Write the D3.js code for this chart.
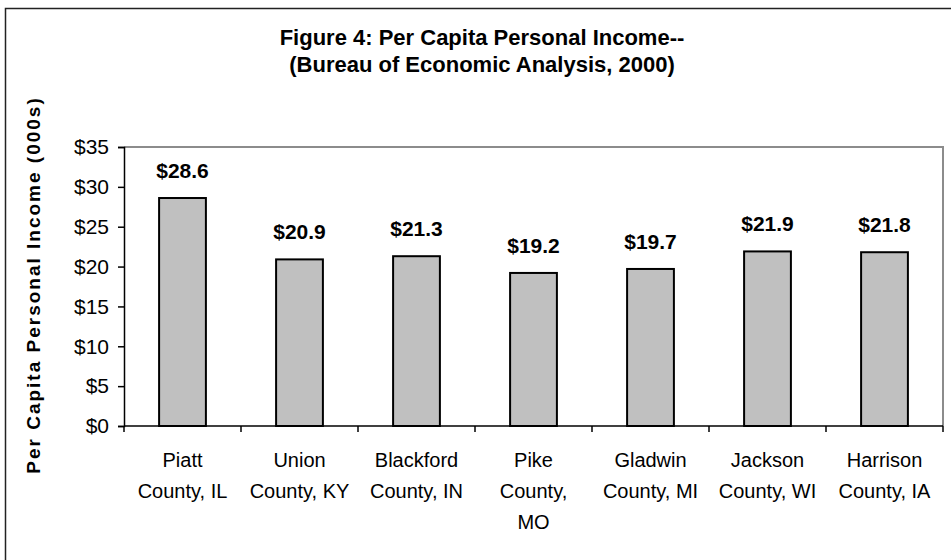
<!DOCTYPE html>
<html>
<head>
<meta charset="utf-8">
<script src="https://cdn.jsdelivr.net/npm/d3@7"></script>
<style>
  body { margin: 0; background: #fff; overflow: hidden; }
  text { font-family: Arial, "Liberation Sans", sans-serif; fill: #000; }
</style>
</head>
<body>
<div id="chart"></div>
<script>
const categories = [
    'Piatt\nCounty, IL',
    'Union\nCounty, KY',
    'Blackford\nCounty, IN',
    'Pike\nCounty,\nMO',
    'Gladwin\nCounty, MI',
    'Jackson\nCounty, WI',
    'Harrison\nCounty, IA'
];
const incomes = [28.6, 20.9, 21.3, 19.2, 19.7, 21.9, 21.8];
const yTicks = [0, 5, 10, 15, 20, 25, 30, 35];
const titleLines = ['Figure 4: Per Capita Personal Income--', '(Bureau of Economic Analysis, 2000)'];
const yTitle = 'Per Capita Personal Income (000s)';

const width = 951;
const height = 560;
const plot = { left: 124, top: 147, right: 943, bottom: 426 };

const svg = d3.select('#chart').append('svg')
    .attr('width', width)
    .attr('height', height);

// outer chart frame, runs off the right and bottom edges
svg.append('rect')
    .attr('x', 5.5)
    .attr('y', 8.5)
    .attr('width', 960)
    .attr('height', 580)
    .attr('fill', 'none')
    .attr('stroke', '#222')
    .attr('stroke-width', 1.5);

svg.append('g')
    .selectAll('text')
    .data(titleLines)
    .join('text')
    .attr('x', 482)
    .attr('y', (d, i) => 45 + i * 27)
    .attr('text-anchor', 'middle')
    .attr('font-size', '22px')
    .attr('font-weight', 'bold')
    .text(d => d);

const x = d3.scaleBand()
    .domain(categories)
    .range([plot.left, plot.right])
    .paddingInner(0.6)
    .paddingOuter(0.3);

const y = d3.scaleLinear()
    .domain([0, 35])
    .range([plot.bottom, plot.top]);

// plot area border, gray on top and right
svg.append('path')
    .attr('d', `M${plot.left},${plot.top}H${plot.right}V${plot.bottom}`)
    .attr('fill', 'none')
    .attr('stroke', '#8c8c8c')
    .attr('stroke-width', 2);

svg.append('g')
    .selectAll('rect')
    .data(incomes)
    .join('rect')
    .attr('x', (d, i) => x(categories[i]))
    .attr('y', d => y(d))
    .attr('width', x.bandwidth())
    .attr('height', d => y(0) - y(d))
    .attr('fill', '#c0c0c0')
    .attr('stroke', '#000')
    .attr('stroke-width', 2);

svg.append('g')
    .selectAll('text')
    .data(incomes)
    .join('text')
    .attr('x', (d, i) => x(categories[i]) + x.bandwidth() / 2)
    .attr('y', d => y(d) - 20)
    .attr('text-anchor', 'middle')
    .attr('font-size', '21px')
    .attr('font-weight', 'bold')
    .text(d => '$' + d.toFixed(1));

// y axis
const yAxis = svg.append('g')
    .attr('transform', `translate(${plot.left},0)`)
    .call(d3.axisLeft(y).tickValues(yTicks).tickSize(6).tickPadding(9).tickFormat(d => '$' + d));
yAxis.select('.domain').attr('stroke', '#000').attr('stroke-width', 1.5);
yAxis.selectAll('.tick line').attr('stroke', '#000').attr('stroke-width', 1.5);
yAxis.selectAll('.tick text')
    .attr('font-size', '21px')
    .attr('font-family', 'Arial, "Liberation Sans", sans-serif');

// x axis, ticks sit between categories
const xAxis = svg.append('g')
    .attr('transform', `translate(0,${plot.bottom})`);
xAxis.append('line')
    .attr('x1', plot.left)
    .attr('x2', plot.right)
    .attr('stroke', '#000')
    .attr('stroke-width', 1.5);
const step = x.step();
xAxis.selectAll('.tick')
    .data(d3.range(categories.length + 1))
    .join('line')
    .attr('class', 'tick')
    .attr('x1', i => plot.left + i * step)
    .attr('x2', i => plot.left + i * step)
    .attr('y1', 0)
    .attr('y2', 6)
    .attr('stroke', '#000')
    .attr('stroke-width', 1.5);

const labels = xAxis.selectAll('.label')
    .data(categories)
    .join('text')
    .attr('class', 'label')
    .attr('text-anchor', 'middle')
    .attr('font-size', '20px')
    .attr('transform', d => `translate(${x(d) + x.bandwidth() / 2},0)`);
labels.selectAll('tspan')
    .data(d => d.split('\n'))
    .join('tspan')
    .attr('x', 0)
    .attr('y', (d, i) => 41 + i * 31)
    .text(d => d);

svg.append('text')
    .attr('transform', 'translate(40,285) rotate(-90)')
    .attr('text-anchor', 'middle')
    .attr('font-size', '19px')
    .attr('font-weight', 'bold')
    .attr('letter-spacing', '2px')
    .text(yTitle);
</script>
</body>
</html>
